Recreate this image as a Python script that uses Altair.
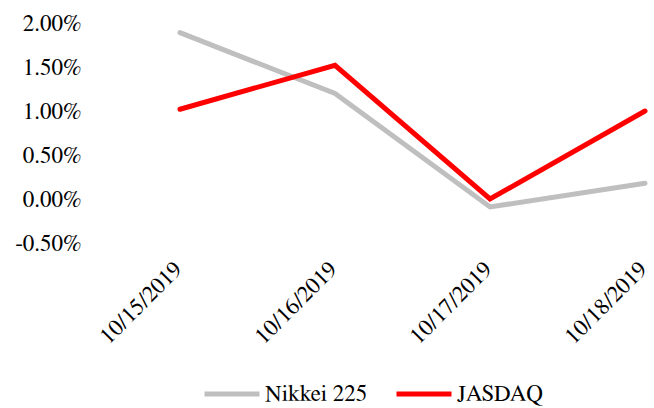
import altair as alt
import pandas as pd

dates = ["10/15/2019", "10/16/2019", "10/17/2019", "10/18/2019"]
nikkei = [1.89, 1.20, -0.09, 0.18]
jasdaq = [1.02, 1.52, 0.00, 1.00]
series = ["Nikkei 225", "JASDAQ"]
colors = ["#BFBFBF", "#FF0000"]
y_ticks = [-0.5, 0.0, 0.5, 1.0, 1.5, 2.0]

rows = []
for name, vals in zip(series, [nikkei, jasdaq]):
    for d, v in zip(dates, vals):
        rows.append({"date": d, "value": v, "series": name})
df = pd.DataFrame(rows)

FONT = "FreeSerif, 'DejaVu Serif', serif"

chart = alt.Chart(df).mark_line(strokeWidth=5, strokeCap="round", strokeJoin="miter").encode(
    x=alt.X("date:O", sort=dates, scale=alt.Scale(type="point", padding=0),
            axis=alt.Axis(title=None, labelAngle=-45, domain=False, ticks=False,
                          labelPadding=27, labelOffset=3, labelBaseline="alphabetic", labelAlign="right",
                          labelFont=FONT, labelFontSize=23,
                          labelColor="#000000", grid=False)),
    y=alt.Y("value:Q", scale=alt.Scale(domain=[-0.5, 2.0], nice=False, zero=False),
            axis=alt.Axis(title=None, values=y_ticks, domain=False, ticks=False, grid=False,
                          labelPadding=99, labelFont=FONT, labelFontSize=23, labelColor="#000000",
                          labelExpr="(datum.value < 0 ? '-' : '') + format(abs(datum.value), '.2f') + '%'")),
    color=alt.Color("series:N", sort=series,
                    scale=alt.Scale(domain=series, range=colors),
                    legend=alt.Legend(title=None, orient="none", direction="horizontal",
                                      legendX=22, legendY=341, symbolType="stroke",
                                      symbolSize=3025, symbolStrokeWidth=5,
                                      labelFont=FONT, labelFontSize=23, labelColor="#000000",
                                      labelOffset=3, columnPadding=18, padding=0)),
    order=alt.Order("series:N")
).properties(
    width=465, height=220,
    background="white",
    autosize=alt.AutoSizeParams(type="none"),
    padding={"left": 180, "top": 23, "right": 9, "bottom": 165},
).configure_view(strokeWidth=0, stroke=None)

chart.save("out.html", embed_options={"renderer": "svg", "actions": False})
